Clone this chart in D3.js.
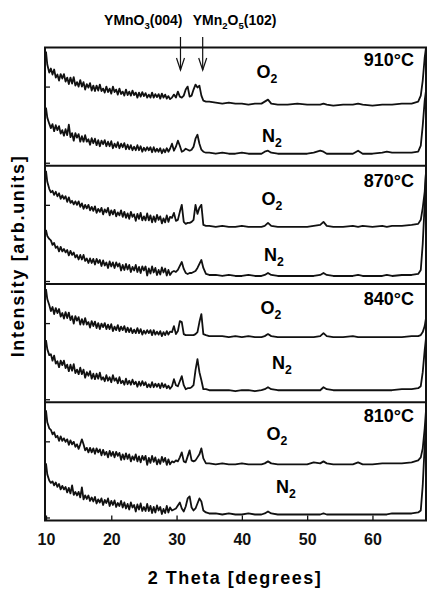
<!DOCTYPE html>
<html>
<head>
<meta charset="utf-8">
<script src="https://cdn.jsdelivr.net/npm/d3@7"></script>
<style>
  body { margin: 0; background: #fff; }
  svg { display: block; font-family: 'Liberation Sans', Arial, sans-serif; font-weight: bold; }
</style>
</head>
<body>
<div id="chart"></div>
<script>
// 2 theta grid (degrees)
const theta = [
  10.0, 10.2, 10.5,
  10.75, 11.0, 11.25, 11.5, 11.75, 12.0, 12.25, 12.5, 12.75, 13.0,
  13.25, 13.5, 13.75, 14.0, 14.25, 14.5, 14.75, 15.0, 15.25, 15.5,
  15.75, 16.0, 16.25, 16.5, 16.75, 17.0, 17.25, 17.5, 17.75, 18.0,
  18.25, 18.5, 18.75, 19.0, 19.25, 19.5, 19.75, 20.0, 20.25, 20.5,
  20.75, 21.0, 21.25, 21.5, 21.75, 22.0, 22.25, 22.5, 22.75, 23.0,
  23.25, 23.5, 23.75, 24.0, 24.25, 24.5, 24.75, 25.0, 25.25, 25.5,
  25.75, 26.0, 26.25, 26.5, 26.75, 27.0, 27.25, 27.5, 27.75, 28.0,
  28.25, 28.5, 28.75, 29.0,
  29.3, 29.6, 29.9, 30.2, 30.5, 30.8, 31.1, 31.4, 31.7, 32.0, 32.3, 32.6, 32.9, 33.2, 33.5, 33.8, 34.1,
  34.5, 35, 36, 37, 38, 39, 40, 41, 42,
  43.0, 43.5, 44.0, 44.5, 45.5, 47.0, 48.5, 50.0, 51.0, 52.0, 52.5, 53.0, 54.0, 55.5,
  57.0, 57.8, 58.5, 60.0, 61.5, 62.2, 63.0, 64.5, 66.0, 67.0, 67.4, 67.7, 68.0, 68.2
]

const temps = ['910°C', '870°C', '840°C', '810°C']
const gases = ['O_2', 'N_2']

// intensities (arb. units, O2 scans stacked above N2 as in the figure)
const o2_910 = [
  114, 101, 93,
  97, 91, 96, 88, 91, 85, 91.5, 87, 91.5, 84,
  88, 81.5, 88, 82, 88.5, 80, 83.5, 79, 85.5, 79,
  83.5, 76, 81.5, 78, 82.5, 75, 80, 74.5, 80, 75,
  81, 74.5, 77, 73, 79, 73.5, 77, 72, 79, 73.5,
  76, 71, 77, 71.5, 74, 70, 76, 70.5, 74, 70,
  75, 70.5, 73, 68, 73, 69, 73.5, 69.5, 72.5, 68,
  71, 68, 73, 68, 71.5, 68.5, 71.5, 67, 72, 68,
  71, 67, 69.5, 66.5,
  68, 71, 68, 74, 69, 68, 70, 76, 79, 69, 70, 76, 81, 78, 80, 70, 65,
  64, 64, 63, 62, 63, 62, 62, 61, 62,
  62, 64, 66, 62, 61, 61, 62, 61, 61, 61, 62, 61, 60, 61,
  61, 62, 61, 60, 61, 61, 61, 62, 62, 64, 70, 85, 108, 118
]
const n2_910 = [
  58, 48, 42,
  37.5, 41.5, 34.5, 40.5, 35.5, 39.5, 32, 35.5, 30, 36.5,
  30.5, 41, 28.5, 32.5, 25, 32.5, 28, 31.5, 24, 29.5,
  24, 30.5, 24, 26.5, 21, 27.5, 22.5, 27, 20.5, 25.5,
  19.5, 25, 21.5, 25.5, 19.5, 24, 19.5, 24.5, 17.5, 22,
  18.5, 23.5, 17.5, 22, 18.5, 22.5, 16.5, 21, 16.5, 20.5,
  15.5, 19, 15.5, 20.5, 15.5, 19.5, 14, 18, 15, 18.5,
  15.5, 18.5, 13.5, 18.5, 14, 17, 14, 17.5, 12.5, 16.5,
  13.5, 17.5, 14, 17,
  22, 15, 19, 25, 20, 14, 15, 17, 16, 15, 16, 19, 27, 31, 22, 16, 14,
  13, 13, 12, 13, 12, 12, 13, 12, 12,
  12, 14, 15, 13, 12, 12, 12, 12, 13, 15, 14, 12, 12, 12,
  12, 15, 12, 12, 13, 14, 13, 13, 13, 14, 20, 40, 65, 75
]
const o2_870 = [
  113, 102, 95,
  91.5, 93, 89, 92, 87.5, 90.5, 85, 88.5, 85, 87.5,
  82, 86.5, 81, 83, 79.5, 82.5, 79, 82.5, 77, 80.5,
  75, 79, 75.5, 79, 73.5, 77, 73, 77.5, 71, 75,
  72, 76, 69.5, 74.5, 71.5, 76, 68.5, 73.5, 69.5, 74,
  67.5, 71.5, 68.5, 73.5, 67, 72, 66, 70.5, 65, 72,
  67, 69.5, 63, 70, 65, 71, 63.5, 67.5, 63.5, 70.5,
  63.5, 68.5, 61.5, 67.5, 62, 69, 64, 67.5, 60.5, 65.5,
  61.5, 68.5, 62, 67,
  66, 71, 63, 64, 72, 79, 62, 60, 61, 61, 62, 64, 79, 70, 76, 79, 59,
  58, 58, 57, 58, 57, 57, 58, 57, 57,
  57, 58, 61, 58, 57, 57, 57, 57, 58, 59, 62, 58, 57, 57,
  58, 57, 58, 57, 58, 57, 58, 58, 59, 60, 64, 76, 92, 112
]
const n2_870 = [
  54, 48, 45,
  43.5, 39, 41, 36, 37.5, 32.5, 37, 32.5, 35, 31.5,
  34, 28.5, 33, 29, 31.5, 26.5, 29, 24.5, 29, 24.5,
  29, 23, 25.5, 21, 25.5, 21, 25, 19.5, 25, 21,
  24, 18, 23.5, 18.5, 21.5, 16, 22.5, 17.5, 21.5, 16,
  21.5, 17.5, 20.5, 13.5, 19, 14, 20, 14.5, 19, 12,
  17, 13.5, 19, 12, 17, 11, 17.5, 13.5, 17.5, 8.5,
  15.5, 10.5, 17.5, 11.5, 16, 9, 14, 9.5, 16.5, 11.5,
  15.5, 8.5, 14, 9,
  12, 13, 12, 14, 18, 22, 15, 11, 10, 11, 11, 12, 13, 16, 20, 24, 16,
  10, 9, 9, 8, 9, 8, 8, 9, 8,
  8, 9, 11, 9, 8, 8, 8, 8, 8, 9, 11, 9, 8, 8,
  8, 9, 8, 8, 8, 9, 8, 9, 9, 10, 14, 40, 80, 112
]
const o2_840 = [
  113, 103, 97,
  91, 95, 88, 94, 89, 93, 85.5, 89, 83.5, 90,
  84, 89.5, 82, 86, 78.5, 86, 81.5, 85, 77.5, 83,
  77.5, 84, 77.5, 80, 74.5, 81, 76, 80.5, 74, 79,
  73, 78.5, 75, 79, 73, 77.5, 73, 78, 71, 75.5,
  72, 77, 71, 75.5, 72, 76, 70, 74.5, 70, 74,
  69, 72.5, 69, 74, 69, 73, 67.5, 71.5, 68.5, 72,
  69, 72, 67, 72, 67.5, 70.5, 67.5, 71, 66, 70,
  67, 71, 67.5, 70.5,
  70, 76, 68, 71, 81, 80, 68, 67, 67, 67, 67, 67, 68, 70, 80, 88, 68,
  67, 66, 66, 66, 65, 66, 65, 66, 65,
  65, 66, 68, 66, 65, 65, 65, 65, 65, 66, 69, 66, 65, 65,
  66, 65, 65, 65, 65, 65, 65, 65, 66, 66, 67, 70, 76, 84
]
const n2_840 = [
  62, 53, 47,
  48, 41.5, 46.5, 38.5, 41, 35, 41.5, 37, 41.5, 34,
  37.5, 31, 37.5, 31.5, 38, 29, 32.5, 28, 34.5, 28,
  32.5, 24.5, 30, 26.5, 31, 23.5, 28.5, 23, 28.5, 23.5,
  29.5, 22.5, 25, 21, 27, 21.5, 25, 20, 27, 21.5,
  24, 19, 25, 19, 21.5, 17.5, 23.5, 18, 21.5, 17.5,
  22.5, 18, 20.5, 15.5, 20.5, 16.5, 21, 17, 20, 15,
  18, 15, 20, 15, 18.5, 15.5, 18.5, 14, 19, 15,
  18, 14, 16.5, 13.5,
  16, 23, 17, 16, 21, 26, 17, 13, 14, 14, 15, 17, 32, 43, 30, 22, 13,
  13, 12, 12, 12, 12, 11, 12, 12, 11,
  12, 13, 15, 13, 12, 12, 12, 12, 12, 12, 15, 13, 12, 12,
  12, 12, 12, 12, 12, 12, 12, 13, 13, 14, 16, 30, 52, 64
]
const o2_810 = [
  110, 98, 92,
  90.5, 86, 88, 83, 84.5, 79.5, 84, 79.5, 82, 78.5,
  81, 75.5, 80, 76, 78.5, 73.5, 76, 71.5, 76, 81,
  76, 70, 72.5, 68, 72.5, 68, 72, 66.5, 72, 68,
  71, 65, 70.5, 65.5, 68.5, 63, 69.5, 64.5, 68.5, 63,
  68.5, 64.5, 67.5, 60.5, 66, 61, 67, 61.5, 66, 59,
  64, 60.5, 66, 59, 64, 58, 64.5, 60.5, 64.5, 55.5,
  62.5, 57.5, 64.5, 58.5, 63, 56, 61, 56.5, 63.5, 58.5,
  62.5, 55.5, 61, 56,
  59, 58, 60, 59, 63, 68, 59, 58, 64, 70, 60, 59, 60, 63, 66, 72, 62,
  57, 57, 56, 57, 56, 56, 57, 56, 56,
  56, 57, 59, 57, 56, 56, 56, 56, 58, 57, 59, 57, 56, 56,
  56, 58, 56, 56, 57, 57, 57, 57, 58, 60, 63, 72, 92, 110
]
const n2_810 = [
  57, 46, 40,
  37.5, 39, 35, 38, 33.5, 36.5, 31, 34.5, 31, 33.5,
  28, 32.5, 27, 35, 25.5, 28.5, 25, 28.5, 23, 33,
  21, 25, 21.5, 25, 19.5, 23, 19, 23.5, 17, 21,
  18, 22, 15.5, 20.5, 17.5, 22, 14.5, 19.5, 15.5, 20,
  13.5, 17.5, 14.5, 19.5, 13, 18, 12, 16.5, 11, 18,
  13, 15.5, 9, 16, 11, 17, 9.5, 13.5, 9.5, 16.5,
  9.5, 14.5, 7.5, 13.5, 8, 15, 10, 13.5, 6.5, 11.5,
  7.5, 14.5, 8, 13,
  10, 11, 12, 15, 18, 12, 9, 14, 22, 24, 13, 10, 12, 17, 22, 19, 10,
  8, 7, 7, 6, 7, 6, 6, 7, 6,
  6, 7, 9, 7, 6, 6, 6, 6, 6, 6, 7, 6, 6, 6,
  6, 6, 6, 6, 6, 6, 7, 7, 7, 8, 10, 35, 75, 97
]

const xTicks = [10, 20, 30, 40, 50, 60]
const yTicks = [3, 79]

const peakNames = ['YMnO_3(004)', 'YMn_2O_5(102)']
const peakTheta = [30.6, 34.0]

const scans = {
  '910°C': [o2_910, n2_910],
  '870°C': [o2_870, n2_870],
  '840°C': [o2_840, n2_840],
  '810°C': [o2_810, n2_810]
}

// label placement per panel: [temp baseline, O2 x, O2 baseline, N2 x, N2 baseline]
const labelLayout = {
  '910°C': [18, 267, 30, 272, 94],
  '870°C': [21, 272, 39, 274, 95],
  '840°C': [21, 271, 30, 282, 85],
  '810°C': [20, 277, 38, 286, 91]
}

const width = 427
const height = 592
const plotLeft = 45
const plotRight = 426
const plotTop = 47.5
const plotBottom = 520.5

const svg = d3.select('#chart').append('svg')
  .attr('width', width)
  .attr('height', height)

const x = d3.scaleLinear().domain([9.85, 68.2]).range([plotLeft, plotRight])
const panels = d3.scaleBand().domain(temps).range([plotTop, plotBottom])

// write "A_2B" style strings with subscripts
function subText (sel, str, size) {
  const parts = str.split(/_(\d)/)
  let shifted = false
  parts.forEach((p, i) => {
    if (!p) return
    const sub = i % 2 === 1
    let dy = 0
    if (sub && !shifted) { dy = size * 0.28; shifted = true }
    if (!sub && shifted) { dy = -size * 0.28; shifted = false }
    sel.append('tspan')
      .attr('font-size', sub ? size * 0.68 : size)
      .attr('dy', dy)
      .text(p)
  })
}

svg.append('clipPath').attr('id', 'plot')
  .append('rect')
  .attr('x', plotLeft).attr('y', plotTop)
  .attr('width', plotRight - plotLeft).attr('height', plotBottom - plotTop)

temps.forEach(t => {
  const y0 = panels(t)
  const y1 = y0 + panels.bandwidth()
  const y = d3.scaleLinear().domain([0, 118]).range([y1, y0])
  const g = svg.append('g').attr('class', 'panel')

  // inward ticks on the left
  g.append('g')
    .attr('transform', 'translate(' + plotLeft + ',0)')
    .call(d3.axisRight(y).tickValues(yTicks).tickSize(5).tickFormat(''))
    .call(a => a.select('.domain').remove())
    .selectAll('line').attr('stroke', '#111').attr('stroke-width', 1.3)

  const line = d3.line()
    .x((d, i) => x(theta[i]))
    .y(d => y(d))

  scans[t].forEach(vals => {
    g.append('path')
      .datum(vals)
      .attr('clip-path', 'url(#plot)')
      .attr('fill', 'none')
      .attr('stroke', '#111')
      .attr('stroke-width', 1.8)
      .attr('stroke-linejoin', 'round')
      .attr('d', line)
  })

  const lay = labelLayout[t]
  g.append('text')
    .attr('x', 414)
    .attr('y', y0 + lay[0])
    .attr('text-anchor', 'end')
    .attr('font-size', 18)
    .text(t)

  gases.forEach((gas, k) => {
    const tx = g.append('text')
      .attr('x', lay[1 + k * 2])
      .attr('y', y0 + lay[2 + k * 2])
      .attr('text-anchor', 'middle')
    subText(tx, gas, 18)
  })

  if (t !== temps[temps.length - 1]) {
    g.append('line')
      .attr('x1', plotLeft).attr('x2', plotRight)
      .attr('y1', y1).attr('y2', y1)
      .attr('stroke', '#111')
      .attr('stroke-width', 2)
  }
})

// frame
svg.append('rect')
  .attr('x', plotLeft).attr('y', plotTop)
  .attr('width', plotRight - plotLeft).attr('height', plotBottom - plotTop)
  .attr('fill', 'none')
  .attr('stroke', '#111')
  .attr('stroke-width', 2)

// x axis with inward ticks
const xAxis = svg.append('g')
  .attr('transform', 'translate(0,' + plotBottom + ')')
  .call(d3.axisBottom(x).tickValues(xTicks).tickSizeInner(-5).tickSizeOuter(0).tickPadding(13))
xAxis.select('.domain').remove()
xAxis.selectAll('line').attr('stroke', '#111').attr('stroke-width', 1.3)
xAxis.selectAll('text')
  .attr('font-size', 16)
  .attr('font-weight', 'bold')
  .attr('font-family', "'Liberation Sans', Arial, sans-serif")
  .attr('fill', '#111')

svg.append('text')
  .attr('x', 235)
  .attr('y', 584)
  .attr('text-anchor', 'middle')
  .attr('font-size', 18)
  .attr('letter-spacing', 1.5)
  .text('2 Theta [degrees]')

svg.append('text')
  .attr('transform', 'translate(24,256) rotate(-90)')
  .attr('text-anchor', 'middle')
  .attr('font-size', 18)
  .attr('letter-spacing', 1.7)
  .text('Intensity [arb.units]')

// peak markers
peakTheta.forEach((p, i) => {
  const px = x(p)
  svg.append('line')
    .attr('x1', px).attr('x2', px)
    .attr('y1', 37).attr('y2', 70)
    .attr('stroke', '#111').attr('stroke-width', 1.2)
  svg.append('path')
    .attr('d', 'M' + (px - 4) + ',58L' + px + ',70L' + (px + 4) + ',58')
    .attr('fill', 'none')
    .attr('stroke', '#111').attr('stroke-width', 1.2)
  const tx = svg.append('text')
    .attr('x', i === 0 ? px + 2 : px - 10)
    .attr('y', 25)
    .attr('text-anchor', i === 0 ? 'end' : 'start')
  subText(tx, peakNames[i], 14)
})
</script>
</body>
</html>
